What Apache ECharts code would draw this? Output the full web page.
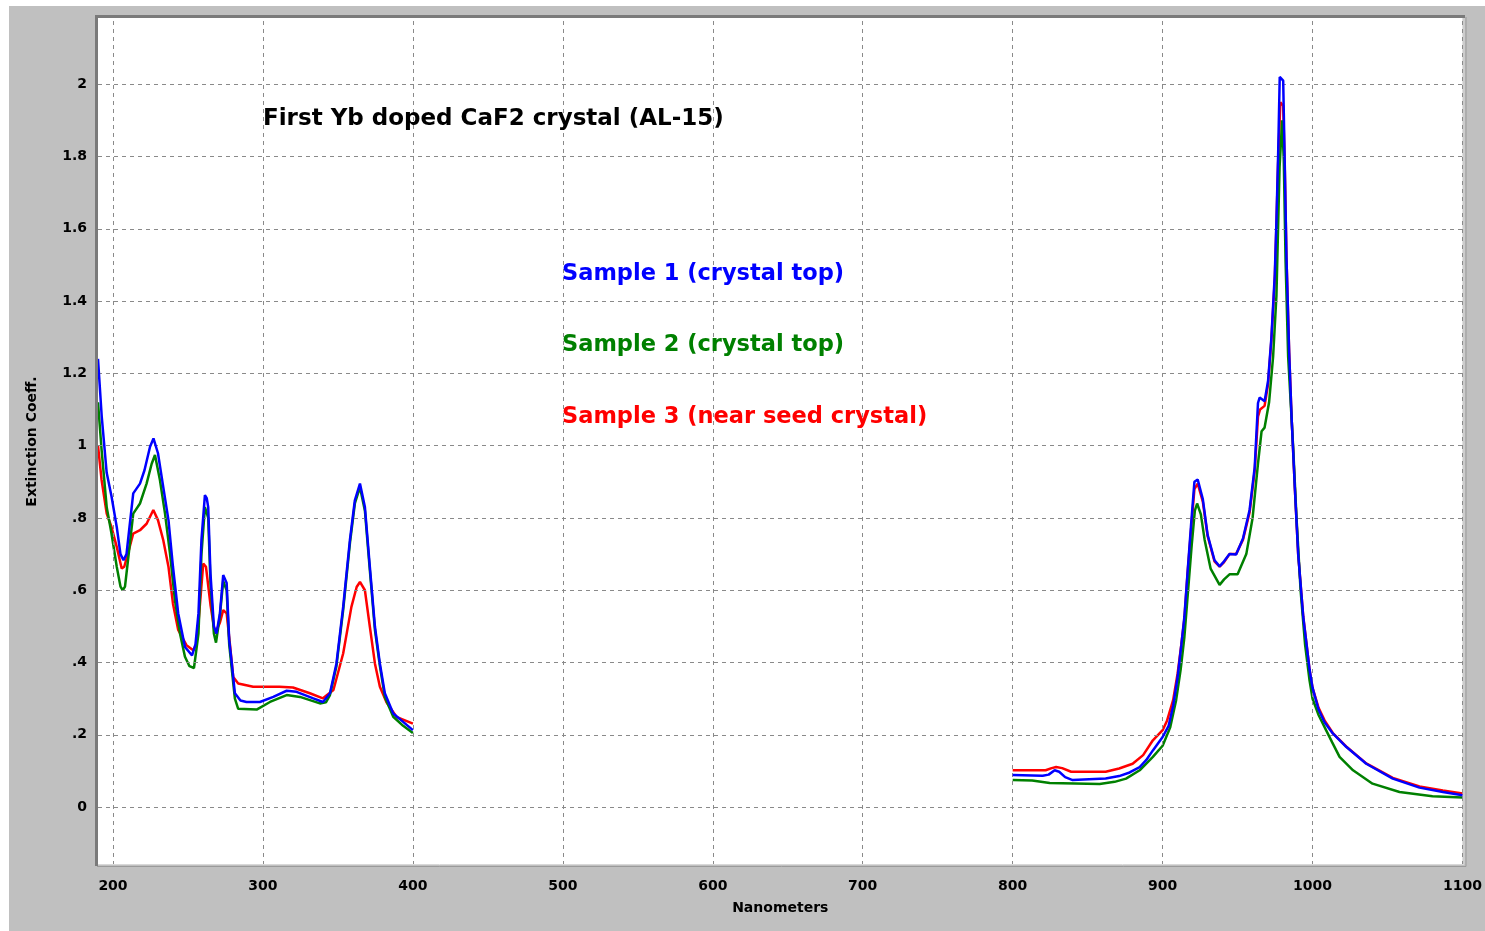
<!DOCTYPE html>
<html>
<head>
<meta charset="utf-8">
<script src="https://cdn.jsdelivr.net/npm/echarts@6/dist/echarts.min.js"></script>
<style>
html,body{margin:0;padding:0;background:#ffffff;width:1485px;height:931px;overflow:hidden;}
#chart{position:absolute;left:9px;top:6px;width:1476px;height:925px;}
</style>
</head>
<body>
<div id="chart"></div>
<script>
// ---- tick labels ----
const xTicks = [200, 300, 400, 500, 600, 700, 800, 900, 1000, 1100];
const yTicks = [0, 0.2, 0.4, 0.6, 0.8, 1.0, 1.2, 1.4, 1.6, 1.8, 2.0];

// ---- series names ----
const seriesNames = ['Sample 1 (crystal top)', 'Sample 2 (crystal top)', 'Sample 3 (near seed crystal)'];
const chartTitle = 'First Yb doped CaF2 crystal (AL-15)';

// ---- Sample 1 (blue) [nm, extinction] ----
const sample1Left = [
 [190,1.24],[192.5,1.08],[195.8,0.925],[199,0.86],[202.5,0.775],[205,0.70],[207,0.683],[209,0.70],
 [211,0.775],[213.5,0.868],[218,0.895],[221,0.932],[224.7,0.997],[227,1.02],[230,0.979],[233.5,0.886],
 [237,0.794],[240,0.665],[243.5,0.536],[248,0.443],[252.7,0.42],[255,0.45],[257,0.536],[259,0.74],
 [261.3,0.863],[262.5,0.855],[263.5,0.83],[265,0.647],[267.3,0.50],[269,0.48],[271.3,0.536],[273.5,0.642],
 [275.8,0.62],[277.5,0.462],[279,0.407],[281.3,0.315],[285,0.295],[289,0.291],[298,0.291],[306.9,0.305],
 [315.8,0.322],[322.4,0.319],[333.6,0.301],[340,0.291],[344.7,0.315],[349,0.397],[353.5,0.554],[358,0.739],
 [361.3,0.849],[364.7,0.895],[368,0.83],[371.3,0.665],[374.7,0.499],[378,0.397],[381.3,0.315],[386.9,0.259],
 [393.5,0.236],[400,0.213]
];
const sample1Right = [
 [800,0.089],[820,0.087],[824,0.09],[828,0.102],[831,0.098],[835,0.083],[840,0.075],[862,0.079],
 [871,0.086],[878,0.096],[884.7,0.111],[889,0.13],[893.5,0.157],[900,0.194],[904,0.225],[907,0.28],
 [910,0.36],[912.5,0.45],[914.5,0.526],[916.7,0.654],[919,0.783],[921.2,0.90],[923.4,0.906],[926.8,0.852],
 [930,0.753],[934.6,0.683],[938,0.666],[941,0.68],[944.6,0.70],[949,0.699],[953.6,0.743],[958,0.822],
 [961.4,0.94],[963.6,1.118],[964.7,1.133],[968,1.123],[970.3,1.178],[972.5,1.296],[974.8,1.474],[975.9,1.623],
 [977,1.80],[978.1,2.02],[980.4,2.01],[981.5,1.77],[982.6,1.52],[984.4,1.257],[986,1.079],[988.2,0.881],
 [990.4,0.70],[993.8,0.526],[996,0.45],[998,0.38],[1000,0.33],[1004,0.27],[1008,0.235],[1013.5,0.204],
 [1022.4,0.167],[1035.8,0.12],[1053.5,0.079],[1071.3,0.054],[1086.9,0.042],[1100,0.033]
];

// ---- Sample 2 (green) ----
const sample2Left = [
 [190,1.12],[192.4,0.988],[195.8,0.83],[199,0.757],[202.5,0.665],[205,0.61],[206.5,0.60],[208,0.61],
 [210,0.683],[213.5,0.812],[218,0.84],[222.4,0.895],[225.8,0.95],[228,0.974],[231.3,0.905],[234.7,0.812],
 [238,0.702],[241.3,0.573],[244.7,0.48],[248,0.416],[251,0.39],[254,0.385],[257,0.48],[259,0.70],
 [261.3,0.83],[263.5,0.80],[265,0.62],[267.3,0.48],[268.7,0.455],[271.3,0.53],[273.5,0.625],[275.8,0.60],
 [277.5,0.45],[279,0.39],[281.3,0.30],[283.5,0.272],[295.8,0.27],[304.7,0.291],[315.8,0.31],[324.7,0.305],
 [338,0.287],[342,0.29],[344.7,0.31],[349,0.39],[353.5,0.545],[358,0.73],[361.3,0.84],[364.7,0.885],
 [368,0.82],[371.3,0.655],[374.7,0.49],[378,0.39],[381.3,0.305],[386.9,0.25],[393.5,0.225],[400,0.205]
];
const sample2Right = [
 [800,0.075],[813,0.074],[824.7,0.067],[858,0.064],[868,0.07],[875.6,0.079],[884.7,0.102],[893.5,0.139],
 [900,0.17],[905,0.22],[909,0.296],[912,0.38],[914.5,0.47],[917,0.60],[919.5,0.73],[921.5,0.82],
 [923,0.84],[925.5,0.81],[928,0.74],[932,0.66],[938,0.615],[941,0.63],[944.6,0.644],[950,0.644],
 [955.8,0.70],[960,0.80],[963.6,0.95],[966,1.04],[968,1.05],[971,1.12],[973.7,1.247],[975.9,1.415],
 [978,1.77],[979.7,1.90],[980.8,1.79],[982,1.51],[983.7,1.247],[987,1.0],[989.3,0.80],[992,0.60],
 [995,0.45],[998,0.35],[1000,0.30],[1004,0.255],[1009,0.213],[1013,0.18],[1018,0.139],[1027,0.102],
 [1040,0.065],[1058,0.042],[1080,0.03],[1100,0.027]
];

// ---- Sample 3 (red) ----
const sample3Left = [
 [190,1.00],[192.4,0.905],[195.8,0.812],[199,0.775],[202.5,0.72],[205.8,0.66],[207.5,0.665],[210,0.702],
 [213.5,0.757],[218,0.766],[222.4,0.784],[226.9,0.822],[230,0.794],[233.5,0.739],[237,0.665],[240,0.563],
 [243.5,0.49],[249,0.448],[253.5,0.434],[255.5,0.45],[257,0.51],[260.2,0.674],[262,0.665],[265,0.56],
 [268,0.48],[271.3,0.51],[273.5,0.545],[275.8,0.536],[278,0.45],[280.2,0.36],[283.5,0.342],[293.5,0.333],
 [311,0.333],[320,0.331],[331.3,0.315],[340,0.301],[347,0.324],[353.5,0.425],[359,0.554],[362.5,0.609],
 [364.7,0.623],[368,0.60],[371.3,0.499],[374.7,0.397],[378,0.333],[382.4,0.29],[389,0.25],[400,0.231]
];
const sample3Right = [
 [800,0.102],[822,0.102],[826,0.108],[829,0.111],[833,0.108],[839,0.098],[862,0.098],[871,0.107],
 [880,0.12],[887,0.144],[893.5,0.185],[900,0.213],[903,0.24],[907,0.296],[910,0.37],[912.5,0.45],
 [914.5,0.52],[916.7,0.65],[919,0.77],[921.2,0.88],[923.4,0.895],[926.8,0.845],[930,0.75],[934.6,0.68],
 [938,0.665],[941,0.678],[944.6,0.70],[949,0.70],[953.6,0.74],[958,0.815],[961.4,0.93],[963.6,1.08],
 [965,1.10],[968,1.11],[970.3,1.17],[972.5,1.29],[974.8,1.46],[975.9,1.61],[977,1.78],[978.5,1.95],
 [980.4,1.94],[981.5,1.76],[982.6,1.52],[984.4,1.257],[986,1.079],[988.2,0.881],[990.4,0.70],[993.8,0.526],
 [996,0.45],[998,0.38],[1000,0.33],[1004,0.275],[1008,0.24],[1013.5,0.205],[1022.4,0.168],[1035.8,0.121],
 [1053.5,0.081],[1071.3,0.057],[1086.9,0.046],[1100,0.038]
];

const colors = ['#0000ff', '#008000', '#ff0000'];

function joinSegments(a, b) { return a.concat([[600, '-']], b); }

const chart = echarts.init(document.getElementById('chart'), null, {renderer: 'canvas'});

const labelFont = {fontFamily: '"DejaVu Sans", sans-serif', fontWeight: 'bold', fontSize: 14, color: '#000'};
const gridLine = {color: '#8a8a8a', width: 1, type: [4, 4]};

const option = {
  backgroundColor: '#c0c0c0',
  animation: false,
  title: {
    text: chartTitle, left: 254, top: 102, padding: 0,
    textStyle: {fontFamily: '"DejaVu Sans", sans-serif', fontWeight: 'bold', fontSize: 23, color: '#000'}
  },
  grid: {left: 89, top: 12, right: 22, bottom: 66, show: true, backgroundColor: '#ffffff', borderWidth: 0},
  xAxis: {
    type: 'value', min: 190, max: 1100,
    name: 'Nanometers', nameLocation: 'middle', nameGap: 36,
    nameTextStyle: labelFont,
    axisLine: {show: false}, axisTick: {show: false}, splitLine: {show: false},
    axisLabel: Object.assign({customValues: xTicks, margin: 14, formatter: function (v) { return String(Math.round(v)); }}, labelFont)
  },
  yAxis: {
    type: 'value', min: -0.16, max: 2.183,
    name: 'Extinction Coeff.', nameLocation: 'middle', nameGap: 59,
    nameTextStyle: labelFont,
    axisLine: {show: false}, axisTick: {show: false}, splitLine: {show: false},
    axisLabel: Object.assign({
      customValues: yTicks, margin: 11,
      formatter: function (v) { const s = String(+(+v).toFixed(1)); return s.replace(/^0\./, '.'); }
    }, labelFont)
  },
  graphic: [
    {type: 'polyline', z: 100, silent: true, shape: {points: [[87.5, 860], [87.5, 10.5], [1456, 10.5]]},
     style: {stroke: '#7a7a7a', lineWidth: 3, fill: null}},
    {type: 'polyline', z: 100, silent: true, shape: {points: [[89, 858.5], [1455, 858.5], [1455, 12]]},
     style: {stroke: '#d8d8d8', lineWidth: 1, fill: null}},
    {type: 'polyline', z: 100, silent: true, shape: {points: [[88, 860.5], [1457, 860.5], [1457, 11]]},
     style: {stroke: '#9a9a9a', lineWidth: 1, fill: null}},
    {type: 'text', z: 100, x: 553, y: 268, style: {text: seriesNames[0], fill: colors[0], font: 'bold 22.5px "DejaVu Sans"', verticalAlign: 'middle', textVerticalAlign: 'middle'}},
    {type: 'text', z: 100, x: 553, y: 339, style: {text: seriesNames[1], fill: colors[1], font: 'bold 22.5px "DejaVu Sans"', verticalAlign: 'middle', textVerticalAlign: 'middle'}},
    {type: 'text', z: 100, x: 553, y: 411, style: {text: seriesNames[2], fill: colors[2], font: 'bold 22.5px "DejaVu Sans"', verticalAlign: 'middle', textVerticalAlign: 'middle'}}
  ],
  series: [
    {
      name: 'grid', type: 'line', data: [], z: 1, silent: true,
      markLine: {
        silent: true, symbol: ['none', 'none'], animation: false,
        label: {show: false},
        lineStyle: gridLine,
        emphasis: {disabled: true},
        data: xTicks.map(v => ({xAxis: v})).concat(yTicks.map(v => ({yAxis: v})))
      }
    },
    {name: seriesNames[2], type: 'line', z: 3, showSymbol: false, connectNulls: false,
     lineStyle: {color: colors[2], width: 2.5}, itemStyle: {color: colors[2]},
     data: joinSegments(sample3Left, sample3Right)},
    {name: seriesNames[1], type: 'line', z: 4, showSymbol: false, connectNulls: false,
     lineStyle: {color: colors[1], width: 2.5}, itemStyle: {color: colors[1]},
     data: joinSegments(sample2Left, sample2Right)},
    {name: seriesNames[0], type: 'line', z: 5, showSymbol: false, connectNulls: false,
     lineStyle: {color: colors[0], width: 2.5}, itemStyle: {color: colors[0]},
     data: joinSegments(sample1Left, sample1Right)}
  ]
};
chart.setOption(option);
</script>
</body>
</html>
